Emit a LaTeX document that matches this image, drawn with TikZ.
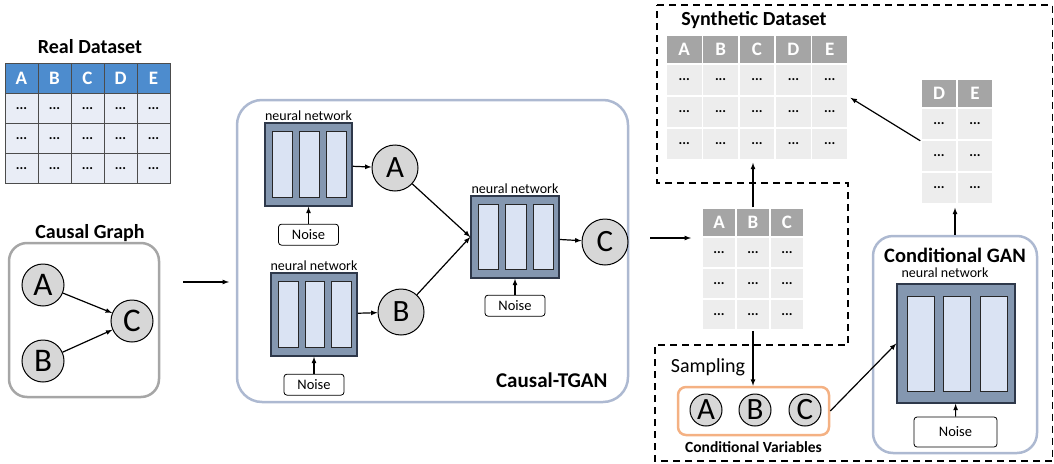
\documentclass[tikz,border=0pt]{standalone}
\usepackage{fontspec}
\setmainfont{Carlito}
\usetikzlibrary{positioning,calc}

\definecolor{realblue}{RGB}{77,140,206}
\definecolor{realfill}{RGB}{233,237,246}
\definecolor{headgray}{RGB}{165,165,165}
\definecolor{cellgray}{RGB}{237,237,237}
\definecolor{nnfill}{RGB}{132,151,176}
\definecolor{nnedge}{RGB}{46,56,74}
\definecolor{barfill}{RGB}{218,227,243}
\definecolor{boxblue}{RGB}{173,185,209}
\definecolor{peach}{RGB}{244,177,131}
\definecolor{circfill}{RGB}{215,215,215}

\begin{document}
\begin{tikzpicture}[x=1pt, y=-1pt,
        title/.style={font=\fontsize{20}{22}\selectfont\bfseries, inner sep=1pt},
        realhead/.style={rectangle, draw=black!70, fill=realblue, text=white, font=\fontsize{19}{20}\selectfont\bfseries, minimum width=33pt, minimum height=30pt, inner sep=0pt},
        realcell/.style={rectangle, draw=black!70, fill=realfill, font=\fontsize{14}{15}\selectfont\bfseries, minimum width=33pt, minimum height=30pt, inner sep=0pt},
        grayhead/.style={rectangle, draw=white, line width=1.5pt, fill=headgray, text=white, font=\fontsize{19}{20}\selectfont\bfseries, minimum height=29pt, inner sep=0pt},
        graycell/.style={rectangle, draw=white, line width=1.5pt, fill=cellgray, font=\fontsize{14}{15}\selectfont\bfseries, minimum height=32pt, inner sep=0pt},
        var/.style={circle, draw, line width=1pt, fill=circfill, inner sep=0pt, minimum size=46pt, font=\fontsize{31}{31}\selectfont},
        nnet/.style={
            rectangle, draw=nnedge, line width=1.5pt, fill=nnfill, inner sep=0pt,
            path picture={
                \foreach \k in {0,1,2}
                    \path[draw=black!85, fill=barfill, line width=0.8pt]
                        let \p1=(path picture bounding box.south west), \p2=(path picture bounding box.north east) in
                        ({\x1+(0.085+0.31*\k)*(\x2-\x1)}, {\y1+0.1*(\y2-\y1)}) rectangle
                        ({\x1+(0.315+0.31*\k)*(\x2-\x1)}, {\y1+0.9*(\y2-\y1)}); % one bar
            }
        },
        nnlabel/.style={font=\fontsize{14}{15}\selectfont, inner sep=1pt},
        noise/.style={rectangle, draw, rounded corners=3pt, line width=0.8pt, minimum width=60pt, minimum height=21pt, inner sep=0pt, font=\fontsize{14.5}{15}\selectfont},
        roundbox/.style={rectangle, rounded corners=22pt, draw=boxblue, line width=2.5pt},
        paths/.style={-latex, line width=1.2pt}
    ]

    \useasboundingbox (0,0) rectangle (1054,463);

    % Real dataset
    \node[title] (real-title) at (90,47) {Real Dataset};
    \foreach \c [count=\i] in {A,B,C,D,E} {
        \node[realhead] (real-h\i) at ({-11.5+33*\i}, 78.5) {\c};
        \foreach \r in {1,2,3}
            \node[realcell] (real-\i-\r) at ({-11.5+33*\i}, {78.5+30*\r}) {...};
    }

    % Causal graph
    \node[roundbox, draw=black!35, rounded corners=18pt, minimum width=150pt, minimum height=154pt] (graph-box) at (84,320) {};
    \node[title] (graph-title) at (90,233) {Causal Graph};
    \node[var, minimum size=42pt, font=\fontsize{33}{33}\selectfont] (ga) at (43,285) {A};
    \node[var, minimum size=42pt, font=\fontsize{33}{33}\selectfont] (gb) at (43,361) {B};
    \node[var, minimum size=42pt, font=\fontsize{33}{33}\selectfont] (gc) at (132,321) {C};
    \draw[paths] (ga) -- (gc);
    \draw[paths] (gb) -- (gc);

    % Causal-TGAN
    \node[roundbox, rounded corners=25pt, minimum width=391pt, minimum height=302pt] (tgan-box) at (432.5,251) {};
    \node[nnet, minimum width=87pt, minimum height=83pt] (nn1) at (308.5,164.5) {};
    \node[nnlabel, above=0pt of nn1] (nn1-label) {neural network};
    \node[noise, below=17pt of nn1] (noise1) {Noise};
    \node[var] (va) at (395,168) {A};

    \node[nnet, minimum width=86pt, minimum height=83pt] (nn2) at (314,314.5) {};
    \node[nnlabel, above=0pt of nn2] (nn2-label) {neural network};
    \node[noise, below=17pt of nn2] (noise2) {Noise};
    \node[var] (vb) at (401,312) {B};

    \node[nnet, minimum width=88pt, minimum height=82pt] (nn3) at (515,237) {};
    \node[nnlabel, above=0pt of nn3] (nn3-label) {neural network};
    \node[noise, below=16pt of nn3] (noise3) {Noise};
    \node[var] (vc) at (605,242) {C};

    \node[font=\fontsize{21}{23}\selectfont\bfseries, anchor=east] (tgan-title) at (611,380) {Causal-TGAN};

    \draw[paths] (nn1) -- (va);
    \draw[paths] (nn2) -- (vb);
    \draw[paths] (va) -- (nn3.west);
    \draw[paths] (vb) -- (nn3.west);
    \draw[paths] (nn3) -- (vc);
    \draw[paths] (noise1) -- (nn1);
    \draw[paths] (noise2) -- (nn2);
    \draw[paths] (noise3) -- (nn3);

    \coordinate (in-start) at (183,282);
    \coordinate (in-end) at (229,282);
    \draw[paths] (in-start) -- (in-end);

    % Generated columns A, B, C
    \foreach \c [count=\i] in {A,B,C} {
        \node[grayhead, minimum width=34pt] (abc-h\i) at ({685+34*\i}, 222.5) {\c};
        \foreach \r in {1,2,3}
            \node[graycell, minimum width=34pt, minimum height=31pt] (abc-\i-\r) at ({685+34*\i}, {221.5+31*\r}) {...};
    }
    \coordinate (out-start) at (650,238);
    \coordinate (out-end) at (691,238);
    \draw[paths] (out-start) -- (out-end);

    % Synthetic dataset
    \draw[dashed, dash pattern=on 7pt off 5pt, line width=1.3pt]
        (657,5) -- (1052.5,5) -- (1052.5,461) -- (655,461) -- (655,345) -- (848,345) -- (848,183) -- (657,183) -- cycle;
    \node[title] (syn-title) at (754,20) {Synthetic Dataset};
    \foreach \c [count=\i] in {A,B,C,D,E} {
        \node[grayhead, minimum width=36.4pt] (syn-h\i) at ({647.8+36.4*\i}, 49.5) {\c};
        \foreach \r in {1,2,3}
            \node[graycell, minimum width=36.4pt] (syn-\i-\r) at ({647.8+36.4*\i}, {48+32*\r}) {...};
    }
    \foreach \c [count=\i] in {D,E} {
        \node[grayhead, minimum width=36pt] (de-h\i) at ({903+36*\i}, 93.5) {\c};
        \foreach \r in {1,2,3}
            \node[graycell, minimum width=36pt] (de-\i-\r) at ({903+36*\i}, {92+32*\r}) {...};
    }
    \draw[paths] (abc-h2.north) -- (abc-h2.north |- syn-3-3.south) [shorten >=2pt];
    \draw[paths, shorten >=2pt] (de-1-1.south west) -- (syn-5-1.south east);

    % Conditional variables
    \node[rectangle, rounded corners=8pt, draw=peach, line width=2.5pt, minimum width=151pt, minimum height=48pt] (cond-box) at (753.5,411) {};
    \node[var, minimum size=32pt, font=\fontsize{31}{31}\selectfont] (ca) at (706,410) {A};
    \node[var, minimum size=32pt, font=\fontsize{31}{31}\selectfont] (cb) at (755,410) {B};
    \node[var, minimum size=32pt, font=\fontsize{31}{31}\selectfont] (cc) at (805,410) {C};
    \node[font=\fontsize{15.5}{17}\selectfont\bfseries, below=2pt of cond-box] (cond-title) {Conditional Variables};
    \node[font=\fontsize{20}{22}\selectfont] (sampling) at (708,367) {Sampling};
    \draw[paths] (abc-2-3.south) -- (abc-2-3.south |- cond-box.north);

    % Conditional GAN
    \node[roundbox, rounded corners=20pt, minimum width=164pt, minimum height=217pt] (gan-box) at (955,344.5) {};
    \node[font=\fontsize{20.5}{22}\selectfont\bfseries] (gan-title) at (955,255) {Conditional GAN};
    \node[nnlabel] (gan-label) at (945,273) {neural network};
    \node[nnet, minimum width=118pt, minimum height=119pt] (gan-nn) at (956,343.5) {};
    \node[noise, minimum width=83pt, minimum height=30pt] (gan-noise) at (955.5,432) {Noise};
    \draw[paths] (gan-noise) -- (gan-nn);
    \draw[paths] (cond-box.east) -- (gan-nn.west);
    \draw[paths, shorten >=3pt] (gan-box.north) -- (gan-box.north |- de-1-3.south);

\end{tikzpicture}
\end{document}
